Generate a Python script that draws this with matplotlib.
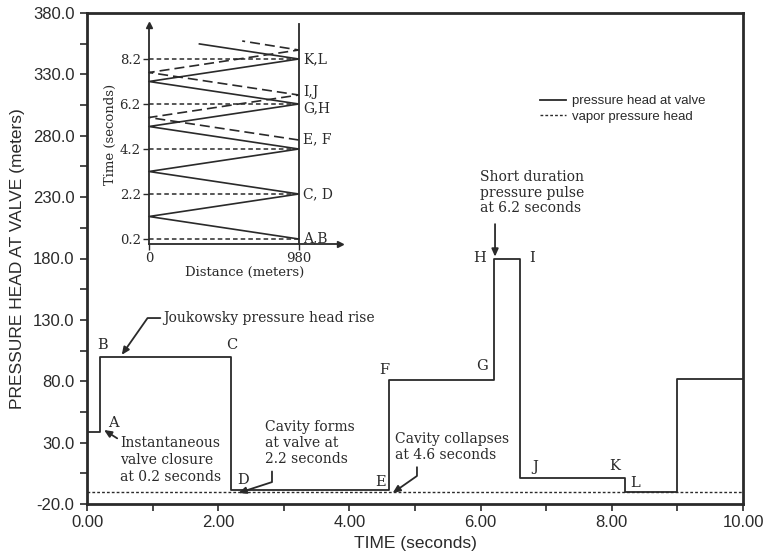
import numpy as np
import matplotlib
matplotlib.use("Agg")
import matplotlib.pyplot as plt

# ---------------- data ----------------
step_times = [0.0, 0.2, 2.2, 4.6, 6.2, 6.6, 8.2, 9.0, 10.0]
head_levels = [39, 100, -9, 81, 180, 1, -10, 82]
vapor_head = -10.5

x_ticks = [0, 2, 4, 6, 8, 10]
x_tick_labels = ["0.00", "2.00", "4.00", "6.00", "8.00", "10.00"]
y_ticks = [-20, 30, 80, 130, 180, 230, 280, 330, 380]
y_tick_labels = ["-20.0", "30.0", "80.0", "130.0", "180.0", "230.0", "280.0", "330.0", "380.0"]

# inset (distance-time characteristic diagram)
pipe_length = 980
solid_dist = [980, 0, 980, 0, 980, 0, 980, 0, 980, 330]
solid_time = [0.2, 1.2, 2.2, 3.2, 4.2, 5.2, 6.2, 7.2, 8.2, 8.87]
dash_dist = [980, 0, 980, 0, 980, 610]
dash_time = [4.6, 5.6, 6.6, 7.6, 8.6, 9.0]
event_times = [0.2, 2.2, 4.2, 6.2, 8.2]
event_labels = ["0.2", "2.2", "4.2", "6.2", "8.2"]
point_labels = ["A,B", "C, D", "E, F", "G,H", "I,J", "K,L"]
point_label_times = [0.22, 2.2, 4.64, 6.02, 6.75, 8.2]

INK = "#2a2a2a"
SERIF = "DejaVu Serif"
SANS = "Liberation Sans"

fig = plt.figure(figsize=(7.67, 5.58), dpi=100)
fig.patch.set_facecolor("white")
ax = fig.add_axes([87 / 767, 54 / 558, 656 / 767, 491 / 558])

# main curves
ax.step(step_times, head_levels + [head_levels[-1]], where="post",
        color=INK, lw=1.3, label="pressure head at valve")
ax.plot([0, 10], [vapor_head, vapor_head], color=INK, lw=1.0,
        linestyle=(0, (2, 1.5)), label="vapor pressure head")

ax.set_xlim(0, 10)
ax.set_ylim(-20, 380)
ax.set_xticks(x_ticks)
ax.set_xticklabels(x_tick_labels, fontfamily=SANS, fontsize=12, color=INK)
ax.set_xticks(np.arange(1, 10, 2), minor=True)
ax.set_yticks(y_ticks)
ax.set_yticklabels(y_tick_labels, fontfamily=SANS, fontsize=12, color=INK)
ax.set_yticks(np.arange(5, 380, 50), minor=True)
ax.tick_params(axis="both", which="both", direction="out", length=5,
               width=1.2, color=INK)
ax.tick_params(axis="y", pad=4)
ax.tick_params(axis="x", pad=3)
for s in ax.spines.values():
    s.set_linewidth(2.0)
    s.set_color(INK)

ax.set_xlabel("TIME (seconds)", fontfamily=SANS, fontsize=12.5, color=INK, labelpad=4)
ax.set_ylabel("PRESSURE HEAD AT VALVE (meters)", fontfamily=SANS, fontsize=12.5,
              color=INK, labelpad=6)

leg = ax.legend(loc="upper left", bbox_to_anchor=(540 / 767, 1 - 95 / 558),
                bbox_transform=fig.transFigure, frameon=False,
                prop={"family": SANS, "size": 9.5}, handlelength=2.0,
                handletextpad=0.4, borderpad=0, borderaxespad=0, labelspacing=0.25)
for t in leg.get_texts():
    t.set_color(INK)

# ---------------- annotations ----------------
tkw = dict(fontfamily=SERIF, fontsize=10, color=INK)
lkw = dict(fontfamily=SERIF, fontsize=10.5, color=INK, ha="center", va="center")
akw = dict(arrowstyle="-|>,head_length=0.45,head_width=0.2", color=INK, lw=1.3,
           shrinkA=0, shrinkB=0)

for lab, x, y in [("A", 0.40, 46), ("B", 0.24, 109.5), ("C", 2.21, 109.5),
                  ("D", 2.38, -0.5), ("E", 4.47, -2), ("F", 4.53, 89),
                  ("G", 6.02, 92.4), ("H", 5.99, 180.4), ("I", 6.78, 180.4),
                  ("J", 6.83, 10), ("K", 8.05, 11), ("L", 8.35, -3)]:
    ax.text(x, y, lab, **lkw)

ax.annotate("Joukowsky pressure head rise", xy=(0.53, 101.5), xytext=(1.16, 131.5),
            ha="left", va="center", **tkw,
            arrowprops=dict(connectionstyle="angle,angleA=0,angleB=55,rad=0", **akw))

ax.text(0.50, 35, "Instantaneous\nvalve closure\nat 0.2 seconds", ha="left", va="top",
        linespacing=1.25, **tkw)
ax.annotate("", xy=(0.26, 40.3), xytext=(0.46, 33.5), arrowprops=dict(**akw))

ax.text(2.71, 48.5, "Cavity forms\nat valve at\n2.2 seconds", ha="left", va="top",
        linespacing=1.2, **tkw)
ax.annotate("", xy=(2.31, -11), xytext=(2.82, 6.5),
            arrowprops=dict(connectionstyle="angle,angleA=90,angleB=18,rad=0", **akw))

ax.text(4.70, 38.5, "Cavity collapses\nat 4.6 seconds", ha="left", va="top",
        linespacing=1.2, **tkw)
ax.annotate("", xy=(4.66, -11), xytext=(5.03, 10),
            arrowprops=dict(connectionstyle="angle,angleA=90,angleB=35,rad=0", **akw))

ax.text(5.99, 252, "Short duration\npressure pulse\nat 6.2 seconds", ha="left", va="top",
        linespacing=1.15, **tkw)
ax.annotate("", xy=(6.22, 181.5), xytext=(6.22, 208), arrowprops=dict(**akw))

# ---------------- inset ----------------
ai = fig.add_axes([149 / 767, (558 - 243.5) / 558, 191 / 767, 218.25 / 558])
ai.set_facecolor("none")
ai.set_xlim(0, 1250)
ai.set_ylim(0, 9.7)
for side in ["top", "right"]:
    ai.spines[side].set_visible(False)
for side in ["left", "bottom"]:
    ai.spines[side].set_linewidth(1.3)
    ai.spines[side].set_color(INK)
ai.plot([0], [9.7], marker="^", ms=5, color=INK, clip_on=False)
ai.plot([1250], [0], marker=">", ms=5, color=INK, clip_on=False)
ai.plot([pipe_length, pipe_length], [0, 9.75], color=INK, lw=1.3, clip_on=False)

ai.plot(solid_dist, solid_time, color=INK, lw=1.2, clip_on=False)
ai.plot(dash_dist, dash_time, color=INK, lw=1.2, linestyle=(0, (6, 3)), clip_on=False)
for t in event_times:
    ai.plot([0, pipe_length], [t, t], color=INK, lw=1.1, linestyle=(0, (3, 2)))

ai.set_yticks(event_times)
ai.set_yticklabels(event_labels, fontfamily=SERIF, fontsize=9.5, color=INK)
ai.set_xticks([0, pipe_length])
ai.set_xticklabels(["0", "980"], fontfamily=SERIF, fontsize=9.5, color=INK)
ai.tick_params(axis="both", direction="out", length=4, width=1.0, color=INK, pad=2)
ai.set_xlabel("Distance (meters)", fontfamily=SERIF, fontsize=9.5, color=INK, labelpad=1)
ai.set_ylabel("Time (seconds)", fontfamily=SERIF, fontsize=9.5, color=INK, labelpad=2)

for lab, t in zip(point_labels, point_label_times):
    ai.text(pipe_length + 30, t, lab, fontfamily=SERIF, fontsize=10, color=INK,
            ha="left", va="center")

fig.savefig("out.png", dpi=100, facecolor="white")
